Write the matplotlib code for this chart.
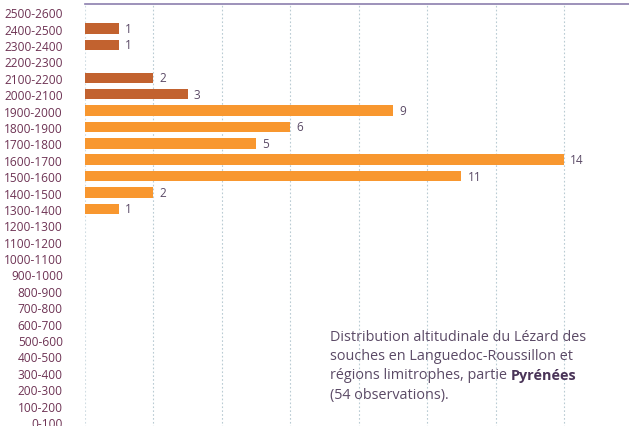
import matplotlib.pyplot as plt

# altitude classes, bottom to top
classes = ["0-100", "100-200", "200-300", "300-400", "400-500", "500-600",
           "600-700", "700-800", "800-900", "900-1000", "1000-1100", "1100-1200",
           "1200-1300", "1300-1400", "1400-1500", "1500-1600", "1600-1700",
           "1700-1800", "1800-1900", "1900-2000", "2000-2100", "2100-2200",
           "2200-2300", "2300-2400", "2400-2500", "2500-2600"]
counts = [0, 0, 0, 0, 0, 0, 0, 0, 0, 0, 0, 0,
          0, 1, 2, 11, 14, 5, 6, 9, 3, 2, 0, 1, 1, 0]
# classes from 2000 m up are drawn in the darker tone
dark_from = 2000

light = "#f8972f"
dark = "#c2622f"
label_col = "#6e3354"
text_col = "#5b4a66"
font = "Open Sans"

W, H = 629, 427
fig = plt.figure(figsize=(W / 100, H / 100), dpi=100)
x0, x1 = 85 / W, 629 / W
top = 1 - 5 / H
bot = 1 - 431.2 / H
ax = fig.add_axes([x0, bot, x1 - x0, top - bot])

ypos = list(range(len(classes)))
colors = [dark if int(c.split("-")[0]) >= dark_from else light for c in classes]
ax.barh(ypos, counts, height=0.64, color=colors, zorder=3)

for y, v in zip(ypos, counts):
    if v > 0:
        ax.text(v + 0.18, y, str(v), va="center", ha="left", fontsize=8.5,
                color=text_col, family=font)

ax.set_xlim(0, 15.9)
ax.set_ylim(-0.5, 25.5)
ax.set_yticks(ypos)
ax.set_yticklabels(classes, fontsize=8.6, color=label_col, family=font)
ax.tick_params(axis="y", length=0, pad=16)
ax.set_xticks([])
for xg in range(2, 16, 2):
    ax.axvline(xg, color="#b9cbd3", lw=0.8, ls=(0, (1.5, 2)), zorder=1)
ax.axvline(0, color="#d0dce2", lw=0.8, ls=(0, (1.5, 2)), zorder=1)

for s in ["right", "bottom", "left"]:
    ax.spines[s].set_visible(False)
ax.spines["top"].set_color("#8c7fae")
ax.spines["top"].set_linewidth(1.2)

cap = dict(fontsize=10.4, color=text_col, family=font, transform=fig.transFigure)
lines = ["Distribution altitudinale du Lézard des",
         "souches en Languedoc-Roussillon et",
         "régions limitrophes, partie ",
         "(54 observations)."]
ys = [338, 357, 376, 396]
for t, yy in zip(lines, ys):
    txt = fig.text(330 / W, 1 - yy / H, t, va="center", ha="left", **cap)
    if t.endswith("partie "):
        fig.canvas.draw()
        ax.annotate("Pyrénées", xy=(1, 0), xycoords=txt, va="bottom", ha="left",
                    fontsize=10.4, color="#4a3458", family=font, fontweight="bold")

fig.savefig("out.png", dpi=100)
